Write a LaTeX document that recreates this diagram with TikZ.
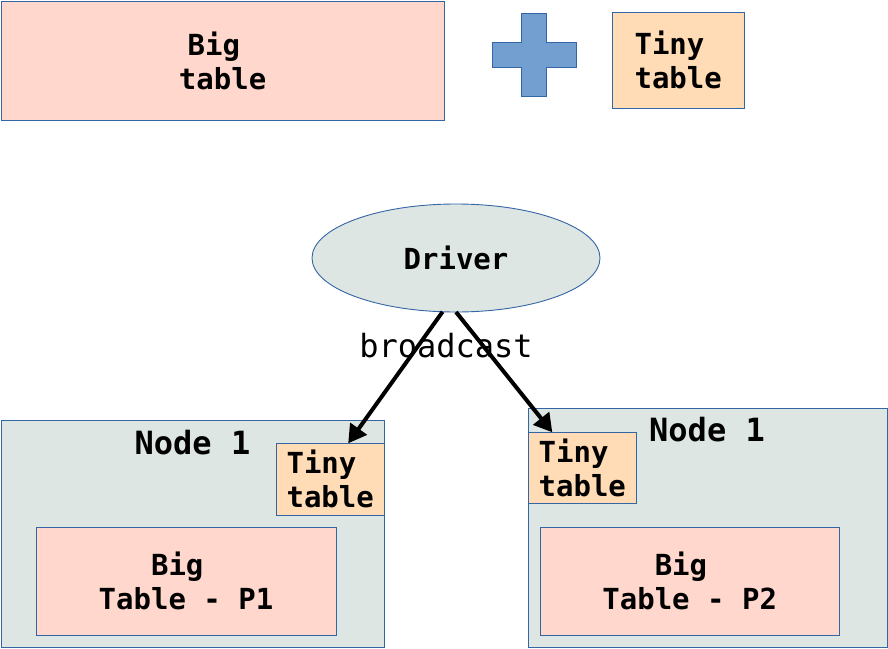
\documentclass[tikz,border=0pt]{standalone}
\usepackage{fontspec}
\setmainfont{DejaVu Sans Mono}
\usetikzlibrary{shapes.geometric,arrows.meta,calc}
\definecolor{edgeblue}{HTML}{3465A4}
\definecolor{plusblue}{HTML}{729FCF}
\definecolor{salmon}{HTML}{FFD7CC}
\definecolor{peach}{HTML}{FFDBB6}
\definecolor{pale}{HTML}{DEE6E4}
\tikzset{
  box/.style={draw=edgeblue, line width=0.9pt, rectangle, inner sep=0pt, outer sep=0pt, align=center,
    font=\fontsize{29}{34}\selectfont\bfseries},
  bigbox/.style={box, fill=salmon},
  tinybox/.style={box, fill=peach},
  nodebox/.style={box, fill=pale},
  lbl/.style={font=\fontsize{32}{38}\selectfont\bfseries, inner sep=0pt, anchor=base},
  arr/.style={line width=4pt, -{Triangle[length=18pt,width=20pt]}},
}
\begin{document}
\begin{tikzpicture}[x=1pt,y=-1pt]
\useasboundingbox (0,0) rectangle (888,648);
% top row
\node[bigbox, minimum width=443.3, minimum height=119] (bigtop) at (222.6,60.5) {Big\phantom{x}\\table};
\filldraw[fill=plusblue, draw=edgeblue, line width=0.9pt]
  (521,13) -- (546.7,13) -- (546.7,42.3) -- (576.7,42.3) -- (576.7,67.3) -- (546.7,67.3)
  -- (546.7,96.7) -- (521,96.7) -- (521,67.3) -- (492.3,67.3) -- (492.3,42.3) -- (521,42.3) -- cycle;
\node[tinybox, minimum width=131.7, minimum height=96] (tinytop) at (678.2,60.3) {Tiny\phantom{x}\\table};
% driver
\node[ellipse, draw=edgeblue, line width=0.9pt, fill=pale, minimum width=288, minimum height=108, inner sep=0pt, outer sep=0pt,
  font=\fontsize{29}{34}\selectfont\bfseries] (drv) at (456,258) {Driver};
% left node
\node[nodebox, minimum width=383, minimum height=226.6] (nl) at (192.8,534) {};
\node[lbl] (nllbl) at (192.5,454) {Node 1};
\node[tinybox, minimum width=108.3, minimum height=72] (lt) at (330.2,479.3) {Tiny\phantom{x}\\table};
\node[bigbox, minimum width=300, minimum height=108] (p1) at (186,581.3) {Big\phantom{x}\\Table - P1};
% right node
\node[nodebox, minimum width=359, minimum height=239] (nr) at (707.8,527.8) {};
\node[lbl] (nrlbl) at (707,441.7) {Node 1};
\node[tinybox, minimum width=108, minimum height=71] (rt) at (582.3,467.8) {Tiny\phantom{x}\\table};
\node[bigbox, minimum width=299.3, minimum height=108] (p2) at (689.7,581.3) {Big\phantom{x}\\Table - P2};
% broadcast
\node[font=\fontsize{32}{38}\selectfont, inner sep=0pt, anchor=base] (bc) at (446,357) {broadcast};
\draw[arr] (drv.256) -- ($(lt.north)+(18,0)$);
\draw[arr] (drv.270) -- ($(rt.north)+(-30,0)$);
\end{tikzpicture}
\end{document}
